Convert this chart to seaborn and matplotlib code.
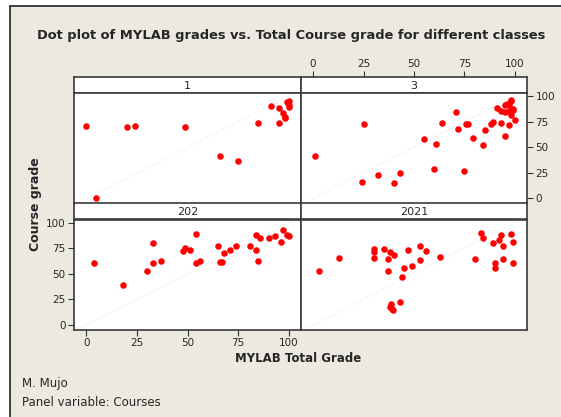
import matplotlib
matplotlib.use('Agg')
import matplotlib.pyplot as plt
import matplotlib.patches as mpatches
from matplotlib.lines import Line2D
import seaborn as sns
import pandas as pd

# panel (course) names
courses = ['1', '3', '202', '2021']

# MYLAB total grade / course grade per course
mylab_1 = [0, 5, 20, 24, 49, 66, 75, 85, 91, 95, 95, 97, 98, 98, 99, 100, 100, 100]
grade_1 = [71, 0, 70, 71, 70, 42, 37, 74, 91, 89, 74, 84, 80, 79, 94, 95, 90, 92]

mylab_3 = [1, 25, 24, 32, 40, 43, 55, 60, 61, 64, 71, 72, 75, 76, 77, 79, 84, 85,
           88, 89, 91, 93, 93, 95, 95, 95, 96, 97, 97, 98, 98, 98, 99, 99, 100, 97]
grade_3 = [42, 73, 16, 23, 15, 25, 58, 29, 53, 74, 85, 68, 27, 73, 73, 59, 52, 67,
           73, 75, 89, 86, 74, 85, 61, 92, 93, 72, 86, 82, 95, 96, 87, 88, 77, 92]

mylab_202 = [4, 18, 30, 33, 33, 37, 48, 49, 51, 54, 54, 56, 65, 66, 67, 68, 71, 74,
             81, 84, 84, 85, 86, 90, 93, 96, 97, 99, 100]
grade_202 = [60, 39, 53, 80, 60, 62, 72, 75, 73, 89, 60, 62, 77, 61, 61, 70, 73, 77,
             77, 88, 73, 62, 85, 85, 87, 81, 93, 88, 87]

mylab_2021 = [3, 13, 30, 30, 30, 35, 37, 37, 38, 40, 43, 44, 45, 47, 49, 53, 53, 56,
              63, 80, 83, 84, 89, 90, 90, 92, 93, 94, 94, 98, 99, 99, 38.5, 38, 39, 39.5]
grade_2021 = [53, 65, 74, 71, 65, 74, 64, 53, 71, 68, 22, 47, 56, 73, 58, 63, 77, 72,
              66, 64, 90, 85, 80, 56, 60, 83, 88, 64, 77, 89, 81, 60, 20, 17, 16, 15]

ticks = [0, 25, 50, 75, 100]

frames = []
for c, xs, ys in zip(courses, [mylab_1, mylab_3, mylab_202, mylab_2021],
                     [grade_1, grade_3, grade_202, grade_2021]):
    frames.append(pd.DataFrame({'Courses': c, 'MYLAB': xs, 'Course': ys}))
df = pd.concat(frames, ignore_index=True)

sns.set_style('ticks')
plt.rcParams['font.family'] = ['DejaVu Sans']

W, H = 561, 417
bg = '#ECE9E0'
fig = plt.figure(figsize=(W / 100, H / 100), dpi=100, facecolor='white')
fig.patches.append(mpatches.Rectangle((10 / W, 0), 1, 1 - 6 / H, transform=fig.transFigure,
                                      facecolor=bg, edgecolor='none', zorder=-5))
fig.add_artist(Line2D([10 / W, 10 / W], [0, 1 - 6 / H], transform=fig.transFigure, color='#222222', lw=1.2))
fig.add_artist(Line2D([10 / W, 1], [1 - 6 / H, 1 - 6 / H], transform=fig.transFigure, color='#222222', lw=1.2))


def box(x0, y0, x1, y1):
    return [x0 / W, 1 - y1 / H, (x1 - x0) / W, (y1 - y0) / H]


cols = [(74, 301), (301, 527)]
rows = [(77.3, 93.3, 203.5), (203.5, 219.5, 330)]
edge = '#3a3a3a'
xlim = (-6, 106)

for i, c in enumerate(courses):
    r, k = divmod(i, 2)
    x0, x1 = cols[k]
    s0, s1, p1 = rows[r]
    st = fig.add_axes(box(x0, s0, x1, s1))
    st.set_facecolor('white')
    st.set_xlim(xlim)
    st.set_yticks([])
    if c == '3':
        st.set_xticks(ticks)
        st.tick_params(axis='x', bottom=False, labelbottom=False, top=True, labeltop=True,
                       labelsize=7.5, length=4, width=0.8, color='#333333', pad=2)
    else:
        st.set_xticks([])
    for sp in st.spines.values():
        sp.set_color(edge)
        sp.set_linewidth(1.2)
    st.text(0.5, 0.45, c, ha='center', va='center', fontsize=8, transform=st.transAxes)

    ax = fig.add_axes(box(x0, s1, x1, p1))
    ax.set_facecolor('white')
    ax.axline((0, 0), slope=1, color='#f6f6f6', lw=0.8, zorder=0)
    sns.scatterplot(data=df[df['Courses'] == c], x='MYLAB', y='Course', ax=ax,
                    color='red', s=22, linewidth=0, legend=False, zorder=3)
    ax.set_xlim(xlim)
    ax.set_ylim(-5, 103)
    ax.set_xticks(ticks)
    ax.set_yticks(ticks)
    ax.set_xlabel('')
    ax.set_ylabel('')
    for sp in ax.spines.values():
        sp.set_visible(True)
        sp.set_color(edge)
        sp.set_linewidth(1.2)
    ax.tick_params(labelsize=7.5, length=4, width=0.8, color='#333333', pad=2,
                   bottom=False, top=False, left=False, right=False,
                   labelbottom=False, labeltop=False, labelleft=False, labelright=False)
    if c == '202':
        ax.tick_params(bottom=True, labelbottom=True, left=True, labelleft=True)
    if c == '3':
        ax.tick_params(right=True, labelright=True)

fig.text(291 / W, 1 - 36 / H, 'Dot plot of MYLAB grades vs. Total Course grade for different classes',
         ha='center', va='center', fontsize=9.4, fontweight='bold')
fig.text(35 / W, 1 - 204 / H, 'Course grade', rotation=90, ha='center', va='center',
         fontsize=9, fontweight='bold')
fig.text(298 / W, 1 - 358 / H, 'MYLAB Total Grade', ha='center', va='center',
         fontsize=8.5, fontweight='bold')
fig.text(22 / W, 1 - 384 / H, 'M. Mujo', ha='left', va='center', fontsize=8.5)
fig.text(22 / W, 1 - 403 / H, 'Panel variable: Courses', ha='left', va='center', fontsize=8.5)

fig.savefig('out.png', dpi=100, facecolor=fig.get_facecolor())
